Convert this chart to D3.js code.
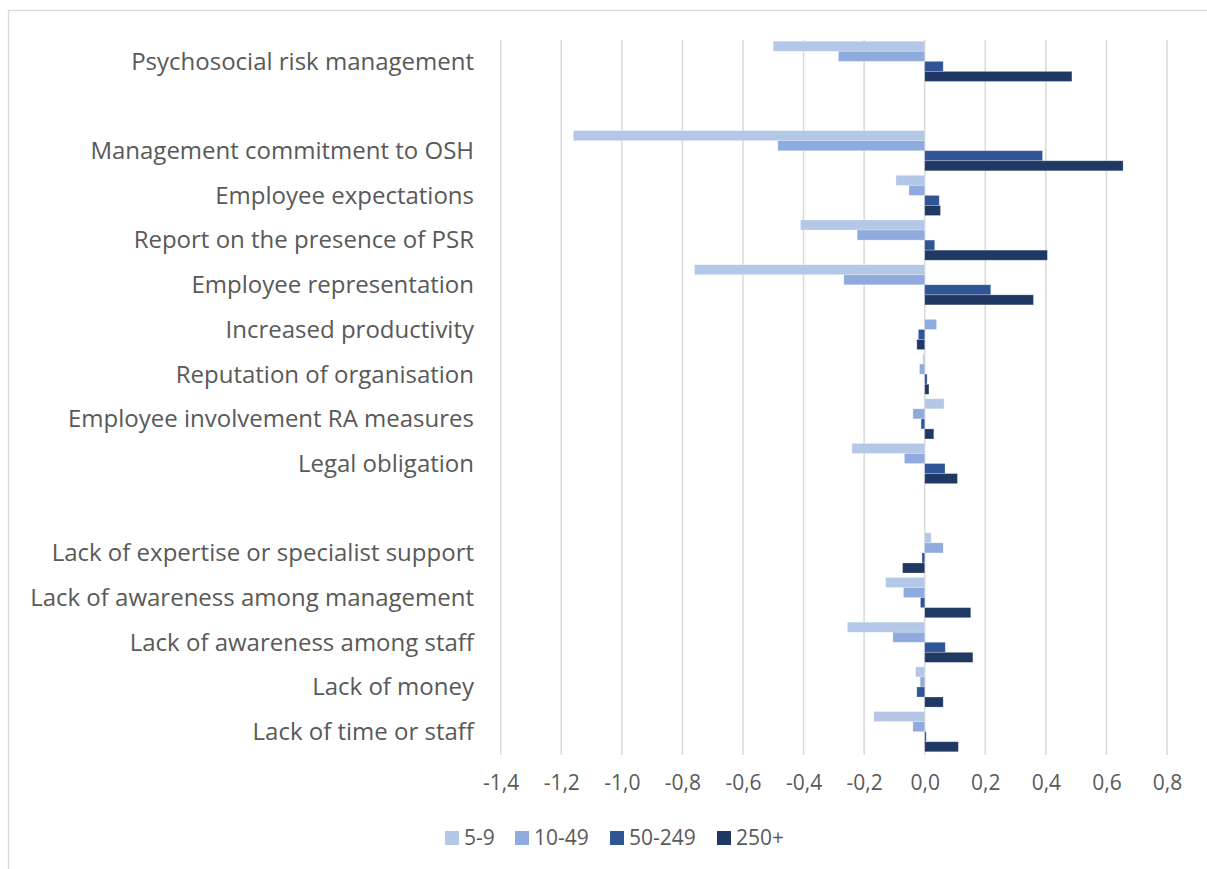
<!DOCTYPE html>
<html>
<head>
<meta charset="utf-8">
<script src="https://cdn.jsdelivr.net/npm/d3@7"></script>
<style>
  html, body { margin: 0; padding: 0; background: #ffffff; }
  svg { display: block; }
  text { font-family: "Open Sans", "Noto Sans", sans-serif; fill: #595959; }
</style>
</head>
<body>
<svg id="chart" width="1207" height="869"></svg>
<script>
// ---- data ----
const categories = [
  "Psychosocial risk management",
  "",
  "Management commitment to OSH",
  "Employee expectations",
  "Report on the presence of PSR",
  "Employee representation",
  "Increased productivity",
  "Reputation of organisation",
  "Employee involvement RA measures",
  "Legal obligation",
  " ",
  "Lack of expertise or specialist support",
  "Lack of awareness among management",
  "Lack of awareness among staff ",
  "Lack of money",
  "Lack of time or staff"
];
const seriesNames = ["5-9", "10-49", "50-249", "250+"];
const values_5_9    = [-0.50, null, -1.16, -0.095, -0.41, -0.76, 0.0,   -0.006, 0.064, -0.24,  null, 0.021, -0.129, -0.255, -0.030, -0.168];
const values_10_49  = [-0.285, null, -0.485, -0.052, -0.223, -0.267, 0.039, -0.017, -0.039, -0.067, null, 0.061, -0.070, -0.105, -0.015, -0.039];
const values_50_249 = [0.061, null, 0.389, 0.048, 0.033, 0.218, -0.021, 0.008, -0.012, 0.067, null, -0.009, -0.014, 0.068, -0.026, 0.005];
const values_250    = [0.486, null, 0.655, 0.052, 0.405, 0.359, -0.026, 0.014, 0.030, 0.108, null, -0.073, 0.152, 0.159, 0.061, 0.111];
const xTicks = [-1.4, -1.2, -1.0, -0.8, -0.6, -0.4, -0.2, 0.0, 0.2, 0.4, 0.6, 0.8];
const colors = ["#B4C7E7", "#8FAADC", "#2F5597", "#203864"];

const seriesValues = [values_5_9, values_10_49, values_50_249, values_250];
const keys = categories.map((c, i) => i);

// ---- drawing ----
const svg = d3.select("#chart");

// chart frame
svg.append("rect")
  .attr("x", 8.5).attr("y", 10.5)
  .attr("width", 1300).attr("height", 900)
  .attr("fill", "none").attr("stroke", "#D9D9D9").attr("stroke-width", 1.3);

const x = d3.scaleLinear().domain([-1.4, 0.8]).range([500.7, 1167]);
const y = d3.scaleBand().domain(keys).range([39, 754]).paddingInner(0.1).paddingOuter(0.05);
const ySub = d3.scaleBand().domain(seriesNames).range([0, y.bandwidth()]);

const locale = d3.formatLocale({ decimal: ",", thousands: ".", grouping: [3], currency: ["", "€"], minus: "-" });
const fmt = locale.format(".1f");

// gridlines
svg.append("g").selectAll("line")
  .data(xTicks)
  .join("line")
  .attr("x1", d => x(d)).attr("x2", d => x(d))
  .attr("y1", 40).attr("y2", 755)
  .attr("stroke", "#D9D9D9").attr("stroke-width", 1.5);

// tick labels (axis)
const axis = d3.axisBottom(x).tickValues(xTicks).tickFormat(fmt).tickSize(0).tickPadding(0);
const axisG = svg.append("g").attr("transform", "translate(0,770)").call(axis);
axisG.select(".domain").remove();
axisG.selectAll("text")
  .attr("y", 13)
  .attr("dy", "0.35em")
  .style("font-size", "21px")
  .style("font-family", "'Open Sans', 'Noto Sans', sans-serif")
  .attr("fill", "#595959");

// bars
seriesNames.forEach((s, si) => {
  const vals = seriesValues[si];
  svg.append("g").selectAll("rect")
    .data(keys.filter(k => vals[k] !== null))
    .join("rect")
    .attr("x", k => x(Math.min(0, vals[k])))
    .attr("width", k => Math.abs(x(vals[k]) - x(0)))
    .attr("y", k => y(k) + ySub(s))
    .attr("height", ySub.bandwidth())
    .attr("fill", colors[si])
    .attr("stroke", "#ffffff").attr("stroke-opacity", 0.3).attr("stroke-width", 0.8);
});

// category labels
svg.append("g").selectAll("text")
  .data(keys)
  .join("text")
  .attr("x", 474)
  .attr("y", k => y(k) + y.bandwidth() / 2)
  .attr("dy", "0.35em")
  .attr("text-anchor", "end")
  .style("font-size", "24px")
  .text(k => categories[k]);

// legend
const legendX = [445, 515, 610, 717];
const lg = svg.append("g");
seriesNames.forEach((s, i) => {
  lg.append("rect")
    .attr("x", legendX[i]).attr("y", 831)
    .attr("width", 14).attr("height", 14)
    .attr("fill", colors[i]);
  lg.append("text")
    .attr("x", legendX[i] + 19).attr("y", 838)
    .attr("dy", "0.35em")
    .style("font-size", "21px")
    .text(s);
});
</script>
</body>
</html>
